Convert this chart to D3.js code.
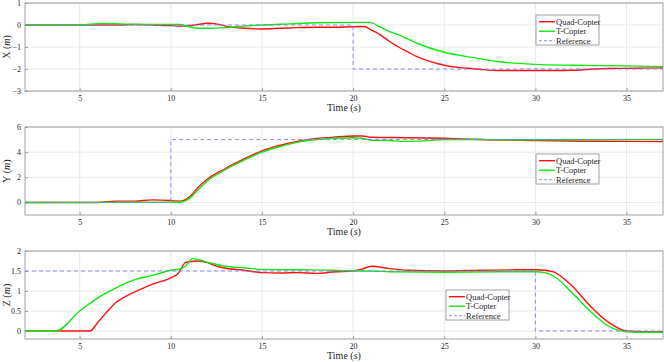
<!DOCTYPE html>
<html><head><meta charset="utf-8">
<script src="https://cdn.jsdelivr.net/npm/d3@7"></script>
<style>
html,body{margin:0;padding:0;background:#fff;}
svg{display:block;}
text{font-family:"Liberation Serif","DejaVu Serif",serif;fill:#262626;}
</style></head>
<body><svg id="c" width="664" height="362"></svg>
<script>
// ---- data ----
const xTicks = [5,10,15,20,25,30,35];
const seriesNames = ["Quad-Copter","T-Copter","Reference"];

const xRefT = [2,20,20,37], xRefV = [0,0,-2,-2];
const xQuadT = [2,7,8,9,10,10.7,11.5,12,12.5,13,14,15,16,17,18,19,20,20.6,21,21.5,22,22.5,23,23.5,24,25,26,26.5,27,28,29,30,31,32,33,34,35,36,37];
const xQuadV = [0,0,0.02,0,-0.03,-0.05,0.02,0.08,0.05,-0.05,-0.15,-0.18,-0.15,-0.12,-0.1,-0.1,-0.08,-0.07,-0.23,-0.45,-0.75,-1.0,-1.22,-1.44,-1.6,-1.83,-1.95,-1.98,-2.02,-2.07,-2.07,-2.07,-2.07,-2.06,-2.01,-1.98,-1.97,-1.96,-1.95];
const xTT = [2,5,6.2,7.5,9,10.5,11,11.5,12,13,14,15,16.5,18,20,20.9,21.5,22,22.5,23.5,25,26.5,28,30,32,35,37];
const xTV = [0,0,0.07,0.04,0.03,0.02,-0.08,-0.15,-0.15,-0.12,-0.05,0,0.05,0.1,0.12,0.12,-0.1,-0.3,-0.45,-0.83,-1.24,-1.47,-1.67,-1.79,-1.83,-1.86,-1.89];

const yRefT = [2,10,10,37], yRefV = [0,0,5,5];
const yQuadT = [2,6,7,8,9,10,10.5,11,11.5,12,13,13.5,14,15,16,17,18,19,20,20.5,21,23,25,27,30,33,37];
const yQuadV = [0,0,0.1,0.1,0.2,0.15,0.1,0.4,1.2,1.84,2.7,3.1,3.45,4.1,4.55,4.87,5.08,5.2,5.28,5.28,5.18,5.15,5.1,5.0,4.93,4.87,4.84];
const yTT = [2,10.5,11,11.5,12,13,13.5,14,15,16,17,18,19,20,20.5,21,22,22.6,23.7,25,27,30,33,37];
const yTV = [0,0.02,0.3,1.0,1.7,2.6,3.0,3.35,4.0,4.45,4.8,5.0,5.1,5.15,5.1,4.95,4.93,4.86,4.88,5.0,5.0,4.98,4.98,5.0];

const zRefT = [2,30,30,37], zRefV = [1.5,1.5,0,0];
const zQuadT = [2,5.57,6,6.5,7,7.5,8,9,10,10.4,10.8,11,11.5,12,12.5,13,14,15,16,17,18,19,20,20.5,21,22,23,25,27,29,30,30.5,31,32,33,34,35,36,37];
const zQuadV = [0,0,0.22,0.48,0.72,0.86,0.97,1.17,1.33,1.44,1.71,1.73,1.75,1.71,1.62,1.57,1.52,1.46,1.45,1.46,1.44,1.48,1.5,1.55,1.62,1.56,1.52,1.5,1.52,1.53,1.53,1.52,1.48,1.13,0.63,0.22,0.0,-0.02,-0.02];
const zTT = [2,3.7,5,6,7,8,9,10,10.5,10.8,11.2,12,13,14,15,17,19,20,21,22,25,28,30,30.5,31,32,33,34,35,35.5,37];
const zTV = [0,0,0.5,0.83,1.08,1.28,1.39,1.52,1.55,1.62,1.81,1.72,1.62,1.58,1.54,1.53,1.52,1.5,1.5,1.48,1.47,1.48,1.48,1.46,1.375,0.96,0.5,0.125,-0.02,-0.03,-0.03];

const panels = [
  {label:"X", top:3, yDom:[-3,1], yTicks:[-3,-2,-1,0,1], fmt:d3.format("d"),
   quad:[xQuadT,xQuadV], t:[xTT,xTV], ref:[xRefT,xRefV], leg:[536,15]},
  {label:"Y", top:127, yDom:[-1,6], yTicks:[0,2,4,6], fmt:d3.format("d"),
   quad:[yQuadT,yQuadV], t:[yTT,yTV], ref:[yRefT,yRefV], leg:[536,154]},
  {label:"Z", top:251, yDom:[-0.2,2], yTicks:[0,0.5,1,1.5,2], fmt:d => String(d),
   quad:[zQuadT,zQuadV], t:[zTT,zTV], ref:[zRefT,zRefV], leg:[446,290]}
];
const colors = {quad:"#ff1010", t:"#10e810", ref:"#8080ff"};

const svg = d3.select("#c");
const L = 25, R = 663, H = 88;
const x = d3.scaleLinear().domain([2,37]).range([L,R]);

panels.forEach(p => {
  const y = d3.scaleLinear().domain(p.yDom).range([p.top+H, p.top]);
  const g = svg.append("g");
  // grid
  g.selectAll(".gx").data(xTicks).enter().append("line")
    .attr("x1",d=>x(d)).attr("x2",d=>x(d)).attr("y1",p.top).attr("y2",p.top+H)
    .attr("stroke","#e3e3e3").attr("stroke-width",0.8);
  g.selectAll(".gy").data(p.yTicks).enter().append("line")
    .attr("y1",d=>y(d)).attr("y2",d=>y(d)).attr("x1",L).attr("x2",R)
    .attr("stroke","#e3e3e3").attr("stroke-width",0.8);
  // axes
  const ax = d3.axisBottom(x).tickValues(xTicks).tickSize(-3).tickPadding(6);
  const axG = g.append("g").attr("transform",`translate(0,${p.top+H})`).call(ax);
  const ay = d3.axisLeft(y).tickValues(p.yTicks).tickFormat(p.fmt).tickSize(-3).tickPadding(4);
  const ayG = g.append("g").attr("transform",`translate(${L},0)`).call(ay);
  [axG, ayG].forEach(a => {
    a.select(".domain").remove();
    a.selectAll("line").attr("stroke","#6a6a6a").attr("stroke-width",0.6);
    a.selectAll("text").attr("font-size","8px").attr("fill","#333")
      .style("font-family",'"Liberation Serif","DejaVu Serif",serif');
  });
  axG.selectAll("text").attr("dy","0.5em");
  // lines
  const line = d3.line().x(d=>x(d[0])).y(d=>y(d[1])).curve(d3.curveMonotoneX);
  const lineL = d3.line().x(d=>x(d[0])).y(d=>y(d[1]));
  const zip = a => a[0].map((t,i)=>[t,a[1][i]]);
  const clipId = "clip"+p.label;
  svg.append("clipPath").attr("id",clipId).append("rect")
    .attr("x",L).attr("y",p.top).attr("width",R-L).attr("height",H);
  const cg = g.append("g").attr("clip-path",`url(#${clipId})`);
  cg.append("path").attr("d",line(zip(p.quad))).attr("fill","none")
    .attr("stroke",colors.quad).attr("stroke-width",1.4);
  cg.append("path").attr("d",line(zip(p.t))).attr("fill","none")
    .attr("stroke",colors.t).attr("stroke-width",1.4);
  cg.append("path").attr("d",lineL(zip(p.ref))).attr("fill","none")
    .attr("stroke",colors.ref).attr("stroke-width",0.9).attr("stroke-dasharray","4,3");
  // box
  g.append("rect").attr("x",L).attr("y",p.top).attr("width",R-L).attr("height",H)
    .attr("fill","none").attr("stroke","#8a8a8a").attr("stroke-width",0.8);
  // labels
  const xl = g.append("text").attr("x",(L+R)/2).attr("y",p.top+H+20)
    .attr("text-anchor","middle").attr("font-size","10px");
  xl.append("tspan").text("Time (");
  xl.append("tspan").attr("font-style","italic").text("s");
  xl.append("tspan").text(")");
  const yl = g.append("text").attr("transform",`translate(10,${p.top+H/2}) rotate(-90)`)
    .attr("text-anchor","middle").attr("font-size","10px");
  yl.append("tspan").text(p.label+" (");
  yl.append("tspan").attr("font-style","italic").text("m");
  yl.append("tspan").text(")");
  // legend
  const [lx,ly] = p.leg;
  const lg = g.append("g").attr("transform",`translate(${lx},${ly})`);
  lg.append("rect").attr("width",63).attr("height",30).attr("fill","#fff")
    .attr("stroke","#8a8a8a").attr("stroke-width",0.8);
  const legC = [colors.quad, colors.t, colors.ref];
  seriesNames.forEach((n,i) => {
    const yy = 6.7 + i*9.5;
    lg.append("line").attr("x1",3).attr("x2",19).attr("y1",yy).attr("y2",yy)
      .attr("stroke",legC[i]).attr("stroke-width",i<2?1.4:0.9)
      .attr("stroke-dasharray",i==2?"3,2":null);
    lg.append("text").attr("x",20).attr("y",yy).attr("dy","0.33em")
      .attr("font-size","8.5px").text(n);
  });
});
</script>
</body></html>
